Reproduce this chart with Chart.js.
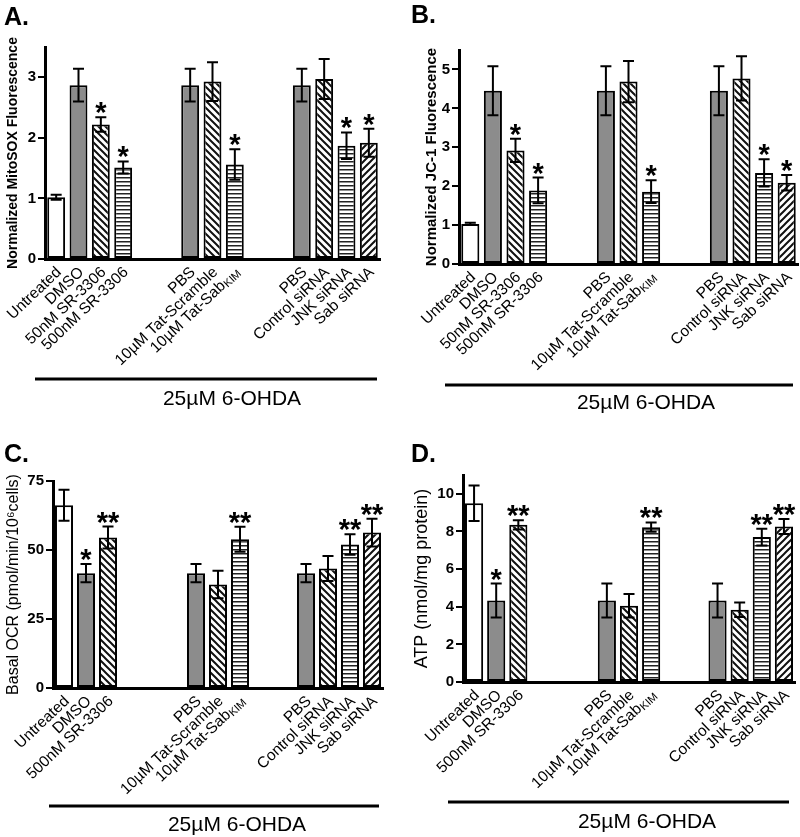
<!DOCTYPE html>
<html>
<head>
<meta charset="utf-8">
<script src="https://cdn.jsdelivr.net/npm/chart.js@4.4.0/dist/chart.umd.min.js"></script>
<style>
  html, body { margin: 0; padding: 0; background: #fff; }
  #fig { position: relative; width: 800px; height: 837px; }
  .panel { position: absolute; }
</style>
</head>
<body>
<div id="fig">
  <div class="panel" style="left:0;top:0"><canvas id="chA" width="400" height="420"></canvas></div>
  <div class="panel" style="left:400px;top:0"><canvas id="chB" width="400" height="420"></canvas></div>
  <div class="panel" style="left:0;top:420px"><canvas id="chC" width="400" height="417"></canvas></div>
  <div class="panel" style="left:400px;top:420px"><canvas id="chD" width="400" height="417"></canvas></div>
</div>
<script>
// ---- datos (los huecos entre grupos van como categorías vacías) ----
const catsAB = ['Untreated', 'DMSO', '50nM SR-3306', '500nM SR-3306', '', '',
  'PBS', '10µM Tat-Scramble', '10µM Tat-Sab_KIM', '', '',
  'PBS', 'Control siRNA', 'JNK siRNA', 'Sab siRNA'];
const catsCD = ['Untreated', 'DMSO', '500nM SR-3306', '', '', '',
  'PBS', '10µM Tat-Scramble', '10µM Tat-Sab_KIM', '', '',
  'PBS', 'Control siRNA', 'JNK siRNA', 'Sab siRNA'];

const fillsAB = ['white', 'gray', 'back', 'horiz', null, null, 'gray', 'back', 'horiz', null, null, 'gray', 'back', 'horiz', 'fwd'];
const fillsCD = ['white', 'gray', 'back', null, null, null, 'gray', 'back', 'horiz', null, null, 'gray', 'back', 'horiz', 'fwd'];

const mitoSOX     = [1.02, 2.87, 2.22, 1.51, null, null, 2.87, 2.93, 1.56, null, null, 2.87, 2.97, 1.87, 1.92];
const mitoSOXErr  = [0.04, 0.27, 0.12, 0.10, null, null, 0.27, 0.32, 0.25, null, null, 0.27, 0.33, 0.22, 0.23];
const mitoSOXSig  = ['', '', '*', '*', '', '', '', '', '*', '', '', '', '', '*', '*'];

const jc1         = [1.03, 4.45, 2.92, 1.89, null, null, 4.45, 4.69, 1.86, null, null, 4.45, 4.77, 2.34, 2.09];
const jc1Err      = [0.03, 0.63, 0.30, 0.33, null, null, 0.63, 0.53, 0.29, null, null, 0.63, 0.57, 0.35, 0.20];
const jc1Sig      = ['', '', '*', '*', '', '', '', '', '*', '', '', '', '', '*', '*'];

const ocr         = [66.2, 41.6, 54.5, null, null, null, 41.6, 37.5, 53.9, null, null, 41.6, 43.3, 52.0, 56.3];
const ocrErr      = [5.6, 3.3, 4.0, null, null, null, 3.3, 5.0, 4.5, null, null, 3.3, 4.5, 3.7, 5.0];
const ocrSig      = ['', '*', '**', '', '', '', '', '', '**', '', '', '', '', '**', '**'];

const atp         = [9.50, 4.33, 8.35, null, null, null, 4.33, 4.05, 8.23, null, null, 4.33, 3.84, 7.70, 8.26];
const atpErr      = [0.94, 0.90, 0.25, null, null, null, 0.90, 0.62, 0.25, null, null, 0.90, 0.38, 0.44, 0.40];
const atpSig      = ['', '*', '**', '', '', '', '', '', '**', '', '', '', '', '**', '**'];

const ticksA = [0, 1, 2, 3];
const ticksB = [0, 1, 2, 3, 4, 5];
const ticksC = [0, 25, 50, 75];
const ticksD = [0, 2, 4, 6, 8, 10];

const FONT = "'Liberation Sans', Arial, sans-serif";

// rellenos: blanco, gris, rayado \\\, rayado ///, líneas horizontales
function makePattern(kind) {
  if (!kind) return 'rgba(0,0,0,0)';
  if (kind === 'white') return '#ffffff';
  if (kind === 'gray') return '#8c8c8c';
  const c = document.createElement('canvas');
  const g = c.getContext('2d');
  if (kind === 'horiz') {
    c.width = 4; c.height = 4;
    g.fillStyle = '#fff'; g.fillRect(0, 0, 4, 4);
    g.fillStyle = '#222'; g.fillRect(0, 1, 4, 1.5);
  } else {
    const s = 7;
    c.width = s; c.height = s;
    g.fillStyle = '#fff'; g.fillRect(0, 0, s, s);
    g.strokeStyle = '#111'; g.lineWidth = 2;
    g.beginPath();
    if (kind === 'back') {
      g.moveTo(-1, -1); g.lineTo(s + 1, s + 1);
      g.moveTo(-1, s - 1); g.lineTo(1, s + 1);
      g.moveTo(s - 1, -1); g.lineTo(s + 1, 1);
    } else {
      g.moveTo(-1, s + 1); g.lineTo(s + 1, -1);
      g.moveTo(-1, 1); g.lineTo(1, -1);
      g.moveTo(s - 1, s + 1); g.lineTo(s + 1, s - 1);
    }
    g.stroke();
  }
  return g.createPattern(c, 'repeat');
}

function makePanel(id, p) {
  const canvas = document.getElementById(id);
  const H = canvas.height;

  const deco = {
    id: 'deco_' + id,
    afterDatasetsDraw(chart) {
      const ctx = chart.ctx;
      const yS = chart.scales.y;
      const meta = chart.getDatasetMeta(0);
      ctx.save();
      ctx.strokeStyle = '#000';
      ctx.lineWidth = 2;
      meta.data.forEach((bar, i) => {
        const v = p.values[i];
        if (v == null) return;
        const e = p.errs[i];
        const x = bar.x;
        const yt = yS.getPixelForValue(v + e);
        const yb = yS.getPixelForValue(v - e);
        ctx.beginPath();
        ctx.moveTo(x, yt); ctx.lineTo(x, yb);
        ctx.moveTo(x - 5.5, yt); ctx.lineTo(x + 5.5, yt);
        ctx.moveTo(x - 5.5, yb); ctx.lineTo(x + 5.5, yb);
        ctx.stroke();
        if (p.sig[i]) {
          ctx.fillStyle = '#000';
          ctx.font = 'bold 29px ' + FONT;
          ctx.textAlign = 'center';
          ctx.textBaseline = 'alphabetic';
          ctx.fillText(p.sig[i], x, yt + 5);
        }
      });
      ctx.restore();
    },
    afterDraw(chart) {
      const ctx = chart.ctx;
      const xS = chart.scales.x;
      const bottom = chart.chartArea.bottom;
      ctx.save();
      ctx.fillStyle = '#000';
      // etiquetas del eje x, giradas
      p.cats.forEach((lab, i) => {
        if (!lab) return;
        const x = xS.getPixelForTick(i);
        const parts = lab.split('_');
        ctx.save();
        ctx.translate(x + 3, bottom + 11);
        ctx.rotate(-0.76);
        ctx.textAlign = 'right';
        ctx.textBaseline = 'middle';
        let off = 0;
        if (parts[1]) {
          ctx.font = '11px ' + FONT;
          ctx.fillText(parts[1], 0, 3);
          off = ctx.measureText(parts[1]).width + 0.5;
        }
        ctx.font = '15.5px ' + FONT;
        ctx.fillText(parts[0], -off, 0);
        ctx.restore();
      });
      // barra del tratamiento
      ctx.fillRect(p.line.x1, p.line.y - 1.5, p.line.x2 - p.line.x1, 3);
      ctx.font = '21px ' + FONT;
      ctx.textAlign = 'center';
      ctx.textBaseline = 'middle';
      ctx.fillText('25µM 6-OHDA', p.line.tx, p.line.ty);
      // letra del panel
      ctx.font = 'bold 25px ' + FONT;
      ctx.textAlign = 'left';
      ctx.textBaseline = 'alphabetic';
      ctx.fillText(p.letter, p.lx, p.ly);
      ctx.restore();
    }
  };

  return new Chart(canvas, {
    type: 'bar',
    data: {
      labels: p.cats,
      datasets: [{
        data: p.values,
        backgroundColor: p.fills.map(makePattern),
        borderColor: '#000',
        borderWidth: 2,
        borderSkipped: false,
        barPercentage: p.barPct,
        categoryPercentage: 1
      }]
    },
    options: {
      responsive: false,
      animation: false,
      layout: { padding: { left: 0, top: p.top, right: canvas.width - p.right, bottom: H - p.bottom } },
      plugins: { legend: { display: false }, tooltip: { enabled: false } },
      scales: {
        x: {
          type: 'category',
          offset: true,
          grid: { display: false, drawTicks: false },
          border: { display: true, color: '#000', width: 3 },
          ticks: { display: false },
          afterFit: s => { s.height = 0; }
        },
        y: {
          min: 0,
          max: p.max,
          grid: { display: true, drawOnChartArea: false, drawTicks: true, tickLength: 7, color: '#000', lineWidth: 2 },
          border: { display: true, color: '#000', width: 3 },
          ticks: { color: '#000', padding: 2, font: { family: FONT, size: 15, weight: 'bold' } },
          afterBuildTicks: s => { s.ticks = p.ticks.map(v => ({ value: v })); },
          afterFit: s => { s.width = p.left; },
          title: {
            display: true,
            text: p.yTitle,
            color: '#000',
            font: { family: FONT, size: p.titleSize, weight: p.titleWeight },
            padding: { top: p.titlePad, bottom: 0 }
          }
        }
      }
    },
    plugins: [deco]
  });
}

makePanel('chA', {
  cats: catsAB, fills: fillsAB, values: mitoSOX, errs: mitoSOXErr, sig: mitoSOXSig, ticks: ticksA,
  left: 45, right: 380, top: 47, bottom: 259, max: 3.5, barPct: 0.8,
  yTitle: 'Normalized MitoSOX Fluorescence', titleSize: 14, titleWeight: 'bold', titlePad: 5,
  line: { x1: 35, x2: 377, y: 379, tx: 232, ty: 399 }, letter: 'A.', lx: 4, ly: 25
});
makePanel('chB', {
  cats: catsAB, fills: fillsAB, values: jc1, errs: jc1Err, sig: jc1Sig, ticks: ticksB,
  left: 59, right: 398, top: 50, bottom: 264, max: 5.5, barPct: 0.8,
  yTitle: 'Normalized JC-1 Fluorescence', titleSize: 15, titleWeight: 'bold', titlePad: 23,
  line: { x1: 45, x2: 393, y: 385, tx: 246, ty: 403 }, letter: 'B.', lx: 11, ly: 23
});
makePanel('chC', {
  cats: catsCD, fills: fillsCD, values: ocr, errs: ocrErr, sig: ocrSig, ticks: ticksC,
  left: 53, right: 383, top: 61, bottom: 268, max: 75, barPct: 0.82,
  yTitle: 'Basal OCR (pmol/min/10⁶cells)', titleSize: 16, titleWeight: 'normal', titlePad: 3.5,
  line: { x1: 49, x2: 379, y: 386, tx: 237, ty: 405 }, letter: 'C.', lx: 4, ly: 42
});
makePanel('chD', {
  cats: catsCD, fills: fillsCD, values: atp, errs: atpErr, sig: atpSig, ticks: ticksD,
  left: 63, right: 395, top: 55, bottom: 262, max: 11, barPct: 0.82,
  yTitle: 'ATP (nmol/mg protein)', titleSize: 18, titleWeight: 'normal', titlePad: 11,
  line: { x1: 48, x2: 389, y: 382, tx: 247, ty: 402 }, letter: 'D.', lx: 11, ly: 42
});
</script>
</body>
</html>
